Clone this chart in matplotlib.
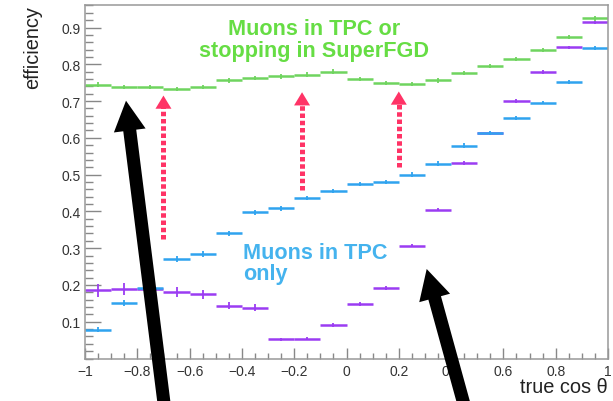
import numpy as np
import matplotlib
matplotlib.use("Agg")
import matplotlib.pyplot as plt
from matplotlib.patches import FancyArrowPatch
from matplotlib.patches import ArrowStyle
from matplotlib.ticker import MultipleLocator, FixedLocator

plt.rcParams['font.family'] = ['Liberation Sans', 'DejaVu Sans']

# ---- data ----
bin_edges = np.round(np.linspace(-1.0, 1.0, 21), 2)
eff_tpc_or_sfgd = [0.745, 0.739, 0.739, 0.733, 0.738, 0.756, 0.763, 0.767, 0.772, 0.780,
                   0.760, 0.749, 0.746, 0.756, 0.776, 0.796, 0.815, 0.839, 0.874, 0.925]
err_tpc_or_sfgd = [0.006] * 20
eff_tpc_only = [0.078, 0.151, 0.193, 0.271, 0.285, 0.341, 0.398, 0.409, 0.437, 0.455,
                0.475, 0.480, 0.500, 0.530, 0.579, 0.613, 0.654, 0.696, 0.751, 0.845]
err_tpc_only = [0.007, 0.008, 0.008, 0.008, 0.008, 0.007, 0.007, 0.007, 0.006, 0.006,
                0.006, 0.006, 0.006, 0.006, 0.006, 0.006, 0.005, 0.005, 0.005, 0.005]
eff_third = [0.185, 0.190, 0.190, 0.181, 0.175, 0.144, 0.138, 0.052, 0.054, 0.092,
             0.149, 0.192, 0.307, 0.405, 0.532, 0.612, 0.700, 0.779, 0.846, 0.914]
err_third = [0.018, 0.016, 0.014, 0.013, 0.012, 0.010, 0.009, 0.005, 0.005, 0.005,
             0.005, 0.005, 0.005, 0.005, 0.005, 0.005, 0.005, 0.005, 0.005, 0.005]

x_ticks = [-1, -0.8, -0.6, -0.4, -0.2, 0, 0.2, 0.4, 0.6, 0.8, 1]
x_ticklabels = ['\u22121', '\u22120.8', '\u22120.6', '\u22120.4', '\u22120.2', '0',
                '0.2', '0.4', '0.6', '0.8', '1']
y_ticks = [0.1, 0.2, 0.3, 0.4, 0.5, 0.6, 0.7, 0.8, 0.9]
y_ticklabels = ['0.1', '0.2', '0.3', '0.4', '0.5', '0.6', '0.7', '0.8', '0.9']

c_green = '#6fd45f'
c_blue = '#2fa3ef'
c_purple = '#9b3cf2'
c_green_txt = '#66dd44'
c_blue_txt = '#45b3ee'
c_red = '#ff3366'

fig = plt.figure(figsize=(6.13, 4.02), dpi=100)
ax = fig.add_axes([85 / 613, 1 - 359.5 / 402, 523 / 613, (359.5 - 5.7) / 402])

lo = bin_edges[:-1]
hi = bin_edges[1:]
centers = (lo + hi) / 2

for vals, errs, col in [(eff_third, err_third, c_purple),
                        (eff_tpc_only, err_tpc_only, c_blue),
                        (eff_tpc_or_sfgd, err_tpc_or_sfgd, c_green)]:
    ax.hlines(vals, lo, hi, colors=col, lw=1.8)
    ax.errorbar(centers, vals, yerr=errs, fmt='none', ecolor=col, elinewidth=1.3, capsize=0)

ax.set_xlim(-1, 1)
ax.set_ylim(0.0, 0.962)

ax.xaxis.set_major_locator(FixedLocator(x_ticks))
ax.set_xticklabels(x_ticklabels)
ax.xaxis.set_minor_locator(MultipleLocator(0.05))
ax.yaxis.set_major_locator(FixedLocator(y_ticks))
ax.set_yticklabels(y_ticklabels)
ax.yaxis.set_minor_locator(MultipleLocator(0.02))

ax.tick_params(axis='both', which='both', direction='in', colors='#888888', labelcolor='#333333',
               labelsize=10, width=1.0)
ax.tick_params(axis='y', which='major', length=11.5, pad=3)
ax.tick_params(axis='y', which='minor', length=5.8)
ax.tick_params(axis='x', which='major', length=8, pad=4)
ax.tick_params(axis='x', which='minor', length=4)
for s in ax.spines.values():
    s.set_color('#999999')
    s.set_linewidth(1.1)

ax.set_xlabel('true cos \u03b8', loc='right', fontsize=14.4, color='#222222')
ax.xaxis.set_label_coords(1.0, -0.052)
ax.set_ylabel('efficiency', loc='top', fontsize=14.4, color='#222222')
ax.yaxis.set_label_coords(-0.082, 1.0)

# annotations text
txt_size = 15.6
ax.text(-0.124, 0.883, 'Muons in TPC or', color=c_green_txt, fontsize=txt_size,
        fontweight='bold', ha='center', va='baseline')
ax.text(-0.124, 0.822, 'stopping in SuperFGD', color=c_green_txt, fontsize=txt_size,
        fontweight='bold', ha='center', va='baseline')
ax.text(-0.396, 0.274, 'Muons in TPC', color=c_blue_txt, fontsize=txt_size,
        fontweight='bold', ha='left', va='baseline')
ax.text(-0.396, 0.217, 'only', color=c_blue_txt, fontsize=txt_size,
        fontweight='bold', ha='left', va='baseline')

# red dotted arrows
red_arrows = [(-0.70, 0.326, 0.715), (-0.17, 0.457, 0.724), (0.20, 0.520, 0.726)]
for xa, y0, y1 in red_arrows:
    ax.plot([xa, xa], [y0, y1 - 0.03], color=c_red, lw=3.6,
            linestyle=(0, (0.9, 0.55)), solid_capstyle='butt', dash_capstyle='butt')
    head = FancyArrowPatch((xa, y1 - 0.037), (xa, y1),
                           arrowstyle=ArrowStyle.Simple(head_length=9.5, head_width=11.5, tail_width=0.1),
                           mutation_scale=1, color=c_red, lw=0, shrinkA=0, shrinkB=0)
    ax.add_patch(head)

# black arrows (extend below the axes)
black_arrows = [((166 / 613, -18 / 402), (126 / 613, (402 - 101.7) / 402)),
                ((468 / 613, -18 / 402), (426.7 / 613, (402 - 270) / 402))]
for tail, tip in black_arrows:
    arr = FancyArrowPatch(tail, tip, transform=fig.transFigure,
                          arrowstyle=ArrowStyle.Simple(head_length=21.6, head_width=23, tail_width=9.4),
                          mutation_scale=1, color='black', lw=0, shrinkA=0, shrinkB=0,
                          clip_on=False, zorder=10)
    fig.add_artist(arr)

fig.savefig('out.png', dpi=100)
